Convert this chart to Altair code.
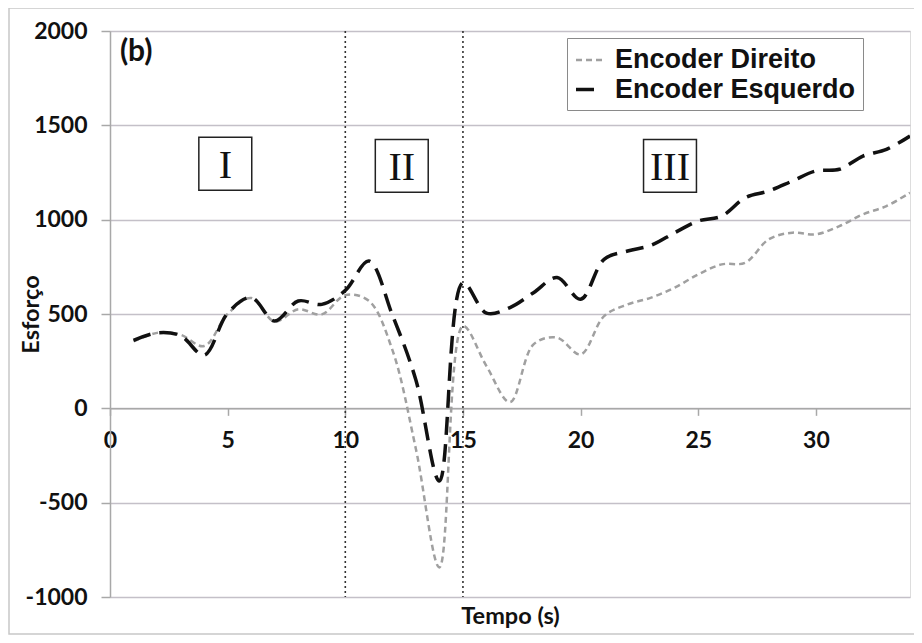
import altair as alt
import pandas as pd

# ---- data ----
tempo = list(range(1, 35))
direito = [355, 400, 390, 330, 500, 585, 460, 525, 498, 600,
           570, 310, -215, -843, 436, 224, 33, 339, 375, 286,
           489, 551, 587, 640, 710, 763, 772, 896, 931, 922,
           966, 1028, 1072, 1143]
esquerdo = [360, 400, 385, 282, 505, 587, 463, 569, 551, 625,
            781, 495, 150, -385, 666, 505, 534, 613, 693, 578,
            790, 834, 864, 931, 993, 1019, 1117, 1152, 1205, 1258,
            1267, 1337, 1373, 1443]
series_names = ["Encoder Direito", "Encoder Esquerdo"]

fronteiras = [10, 15]
regioes = ["I", "II", "III"]
regioes_t = [4.9, 12.4, 23.8]
regioes_v = [1296, 1285, 1285]
painel = ["(b)"]
painel_t = [0.42]
painel_v = [1890]

y_ticks = [-1000, -500, 0, 500, 1000, 1500, 2000]
x_ticks = [0, 5, 10, 15, 20, 25, 30]

rows = []
for t, d, e in zip(tempo, direito, esquerdo):
    rows.append({"t": t, "v": d, "s": series_names[0]})
    rows.append({"t": t, "v": e, "s": series_names[1]})
df = pd.DataFrame(rows)

W, H = 800, 566
LABEL_FONT = "Lato"

xscale = alt.Scale(domain=[0, 34], nice=False, zero=False)
yscale = alt.Scale(domain=[-1000, 2000], nice=False)

x_axis = alt.Axis(values=x_ticks, grid=False, domainColor="#a8a8a8", domainWidth=1.5,
                  tickColor="#a8a8a8", tickWidth=1.5, tickSize=7,
                  labelFont=LABEL_FONT, labelFontWeight="bold", labelFontSize=23,
                  labelColor="#111", labelPadding=14, labelFlush=False,
                  labelExpr="'' + datum.value",
                  offset=-(H - H * 2 / 3),
                  title="Tempo (s)", titleFont=LABEL_FONT, titleFontWeight="bold",
                  titleFontSize=23.5, titleColor="#111", titleY=208, titleX=W / 2,
                  titleBaseline="middle", titleAlign="center")

y_axis = alt.Axis(values=y_ticks, grid=True, gridColor="#c4c0c8", gridWidth=1.5,
                  domainColor="#a8a8a8", domainWidth=1.5, tickColor="#a8a8a8",
                  tickWidth=1.5, tickSize=9, labelFont=LABEL_FONT,
                  labelFontWeight="bold", labelFontSize=23, labelColor="#111",
                  labelPadding=14, labelExpr="'' + datum.value",
                  title="Esforço", titleFont=LABEL_FONT,
                  titleFontWeight="bold", titleFontSize=23.5, titleColor="#111",
                  titleAngle=270, titleX=-79, titleY=H / 2, titleAlign="center",
                  titleBaseline="middle")

legend = alt.Legend(title=None, orient="none", legendX=457, legendY=7,
                    padding=7, strokeColor="#8a8a8a", fillColor="white",
                    symbolType="stroke", symbolSize=729, symbolStrokeWidth=3,
                    labelFont="Liberation Sans", labelFontWeight="bold",
                    labelFontSize=27, labelColor="#111", labelLimit=500,
                    rowPadding=1, labelOffset=10)

lines = alt.Chart(df).mark_line(interpolate="catmull-rom", clip=True).encode(
    x=alt.X("t:Q", scale=xscale, axis=x_axis),
    y=alt.Y("v:Q", scale=yscale, axis=y_axis),
    color=alt.Color("s:N", scale=alt.Scale(domain=series_names, range=["#a0a0a0", "#111111"]),
                    legend=legend),
    strokeDash=alt.StrokeDash("s:N", scale=alt.Scale(domain=series_names, range=[[6, 4], [18, 9]]),
                              legend=legend),
    strokeWidth=alt.StrokeWidth("s:N", scale=alt.Scale(domain=series_names, range=[2.5, 3.5]),
                                legend=None),
)

bound_df = pd.DataFrame({"t": fronteiras})
bounds = alt.Chart(bound_df).mark_rule(color="#333", strokeDash=[2, 3], strokeWidth=1.6).encode(
    x=alt.X("t:Q", scale=xscale),
)

reg_df = pd.DataFrame({"t": regioes_t, "v": regioes_v, "lab": regioes})
boxes = alt.Chart(reg_df).mark_point(shape="square", size=2800, filled=False,
                                     color="#222", strokeWidth=1.5, opacity=1).encode(
    x=alt.X("t:Q", scale=xscale), y=alt.Y("v:Q", scale=yscale))
reg_text = alt.Chart(reg_df).mark_text(font="Liberation Serif", fontSize=40,
                                       color="#111", baseline="middle", align="center", dy=2).encode(
    x=alt.X("t:Q", scale=xscale), y=alt.Y("v:Q", scale=yscale), text="lab:N")

pan_df = pd.DataFrame({"t": painel_t, "v": painel_v, "lab": painel})
pan_text = alt.Chart(pan_df).mark_text(font=LABEL_FONT, fontWeight="bold", fontSize=30,
                                       color="#111", align="left", baseline="middle").encode(
    x=alt.X("t:Q", scale=xscale), y=alt.Y("v:Q", scale=yscale), text="lab:N")

frame = alt.Chart(pd.DataFrame({"k": [0]})).mark_rect(fill=None, stroke="#c8c8c8",
                                                      strokeWidth=1.5, clip=False).encode(
    x=alt.value(-101), x2=alt.value(830), y=alt.value(-23), y2=alt.value(603))

chart = alt.layer(frame, bounds, lines, boxes, reg_text, pan_text).properties(
    width=W, height=H,
    autosize=alt.AutoSizeParams(type="none"),
    padding={"left": 102, "top": 23, "right": 4, "bottom": 38},
).configure_view(stroke=None).configure(background="white")

chart.save("out.html", embed_options={"renderer": "svg", "actions": False})
